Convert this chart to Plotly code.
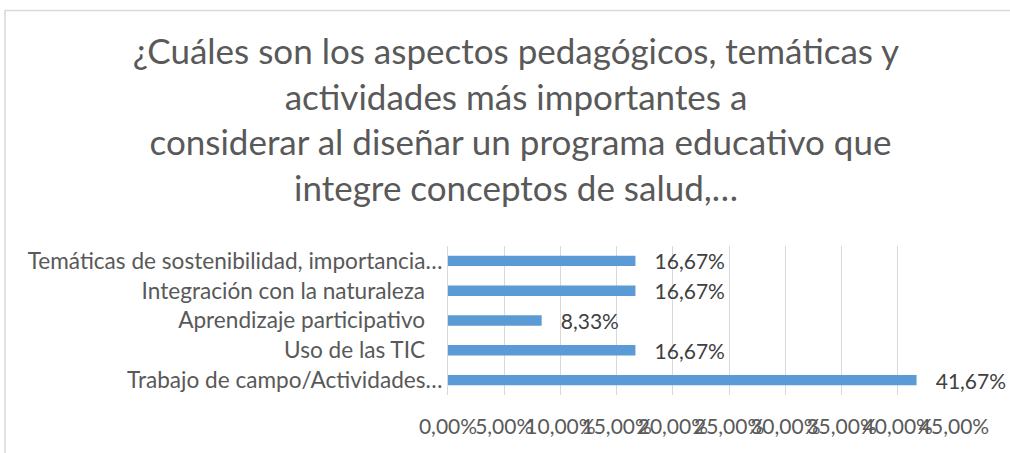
import plotly.graph_objects as go

# Datos (de abajo hacia arriba, como los dibuja plotly)
categorias = [
    "Trabajo de campo/Actividades…",
    "Uso de las TIC",
    "Aprendizaje participativo",
    "Integración con la naturaleza",
    "Temáticas de sostenibilidad, importancia…",
]
porcentajes = [0.4167, 0.1667, 0.0833, 0.1667, 0.1667]
ticks_x = [0, 0.05, 0.10, 0.15, 0.20, 0.25, 0.30, 0.35, 0.40, 0.45]
titulo = [
    "¿Cuáles son los aspectos pedagógicos, temáticas y",
    "actividades más importantes a",
    " considerar al diseñar un programa educativo que",
    "integre conceptos de salud,…",
]

W, H = 1010, 453
L, R, T, B = 448, 954, 246, 395  # area de trazado en px

FONT = "Lato, 'Open Sans', sans-serif"
GRIS = "#595959"

# las etiquetas completas llevan un espacio al final en el original
etiquetas = [c if c.endswith("…") else c + "\u00a0\u00a0\u00a0" for c in categorias]

fig = go.Figure(go.Bar(
    x=porcentajes,
    y=etiquetas,
    orientation="h",
    marker=dict(color="#5B9BD5", line=dict(width=0)),
    texttemplate="\u00a0\u00a0\u00a0%{x:.2%}",
    textposition="outside",
    constraintext="none",
    cliponaxis=False,
    textfont=dict(family=FONT, size=21, color="#404040"),
))

def px_x(p):
    return (p - L) / (R - L)

def px_y(p):
    return (B - p) / (B - T)

fig.update_layout(
    width=W, height=H,
    margin=dict(l=L, r=W - R, t=T, b=H - B),
    paper_bgcolor="white",
    plot_bgcolor="white",
    separators=",.",
    bargap=0.65,
    showlegend=False,
    title=dict(
        text="<br>".join(titulo),
        font=dict(family=FONT, size=35, color=GRIS),
        x=516 / W, xanchor="center", xref="container",
        y=1 - 64 / H, yanchor="top", yref="container",
    ),
    font=dict(family=FONT, color=GRIS),
    shapes=[dict(
        type="rect", xref="paper", yref="paper",
        x0=px_x(5), x1=px_x(1030), y0=px_y(470), y1=px_y(10.5),
        line=dict(color="#D9D9D9", width=1.5), fillcolor="rgba(0,0,0,0)",
        layer="below",
    )],
)

fig.update_xaxes(
    range=[0, 0.45],
    tickvals=ticks_x,
    tickformat=".2%",
    tickangle=0,
    showgrid=True, gridcolor="#D9D9D9", gridwidth=1,
    zeroline=False, showline=False,
    ticks="", ticklabelstandoff=17,
    tickfont=dict(family=FONT, size=21, color=GRIS),
)
fig.update_yaxes(
    type="category",
    showgrid=False, zeroline=False,
    showline=True, linecolor="#D9D9D9", linewidth=1,
    ticks="",
    tickfont=dict(family=FONT, size=22.6, color=GRIS),
)

# sin margen del body para que la figura ocupe la ventana exacta
fig.write_html(
    "out.html",
    config={"displayModeBar": False},
    post_script="document.body.style.margin='0';document.body.style.overflow='hidden';",
)
